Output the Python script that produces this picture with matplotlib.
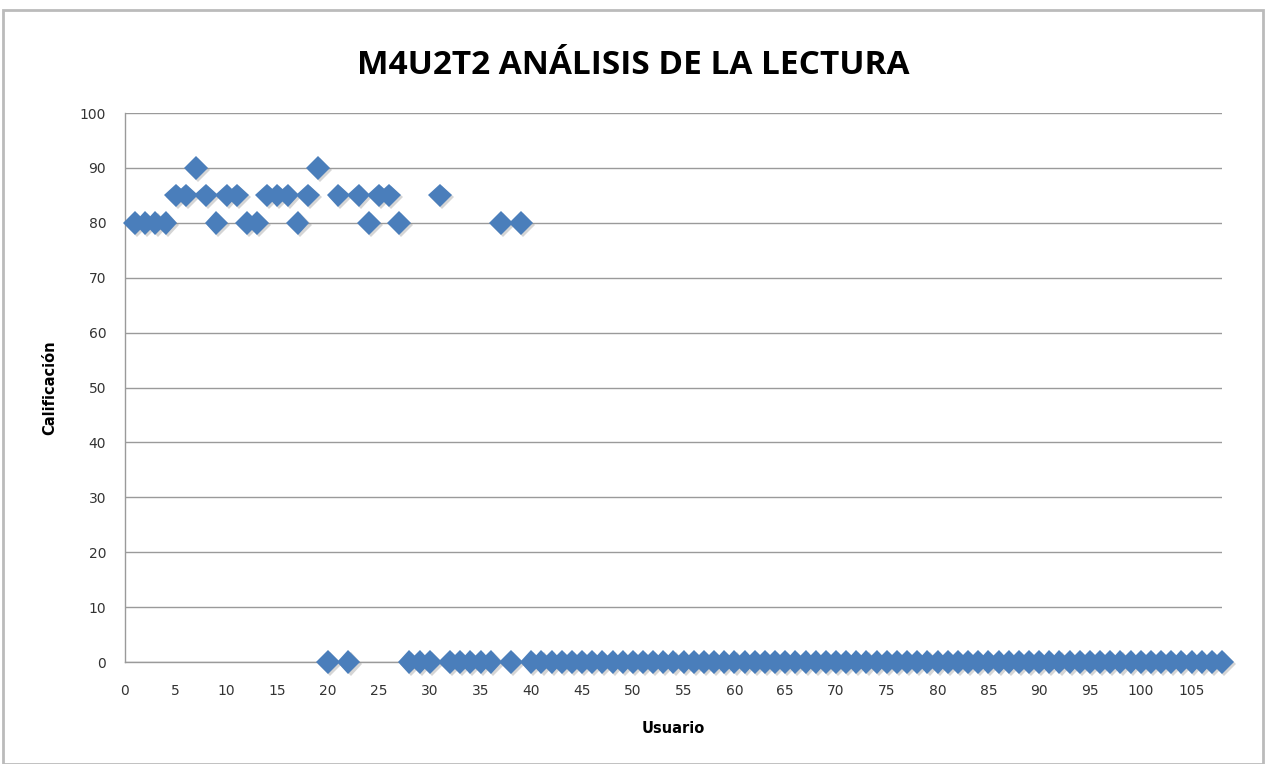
import matplotlib
matplotlib.use("Agg")
import matplotlib.pyplot as plt
import matplotlib.patheffects as pe
from matplotlib.patches import Rectangle

# Data
high_x = [1, 2, 3, 4, 5, 6, 7, 8, 9, 10, 11, 12, 13, 14, 15, 16, 17, 18, 19,
          21, 23, 24, 25, 26, 27, 31, 37, 39]
high_y = [80, 80, 80, 80, 85, 85, 90, 85, 80, 85, 85, 80, 80, 85, 85, 85, 80, 85, 90,
          85, 85, 80, 85, 85, 80, 85, 80, 80]
zero_x = [20, 22, 28, 29, 30, 32, 33, 34, 35, 36, 38] + list(range(40, 109))
zero_y = [0] * len(zero_x)

pts = sorted(zip(high_x + zero_x, high_y + zero_y))
usuario = [p[0] for p in pts]
calificacion = [p[1] for p in pts]

title = "M4U2T2 ANÁLISIS DE LA LECTURA"
xlabel = "Usuario"
ylabel = "Calificación"
xticks = list(range(0, 106, 5))
yticks = list(range(0, 101, 10))

fig = plt.figure(figsize=(12.67, 7.64), dpi=100)
ax = fig.add_axes([125/1267, 1-662/764, (1222-125)/1267, (662-113)/764])

ax.plot(usuario, calificacion, linestyle="none", marker="D", markersize=12,
        color="#4A7EBB", markeredgewidth=0,
        path_effects=[pe.SimplePatchShadow(offset=(1.5, -1.5), shadow_rgbFace="#888888", alpha=0.35),
                      pe.Normal()],
        zorder=3, clip_on=False)

ax.set_xlim(0, 108)
ax.set_ylim(0, 100)
ax.set_xticks(xticks)
ax.set_yticks(yticks)
ax.tick_params(axis="both", length=0, labelsize=10, colors="#333333")
ax.tick_params(axis="x", pad=15.5)
ax.tick_params(axis="y", pad=13.5)
ax.grid(axis="y", color="#9a9a9a", linewidth=1)
ax.set_axisbelow(True)
for s in ["top", "right"]:
    ax.spines[s].set_visible(False)
for s in ["left", "bottom"]:
    ax.spines[s].set_color("#9a9a9a")
    ax.spines[s].set_linewidth(1)

ax.set_xlabel(xlabel, fontsize=10.5, fontweight="bold", labelpad=17)
ax.set_ylabel(ylabel, fontsize=10.5, fontweight="bold", labelpad=16)
fig.text(0.5, 1-65/764, title, ha="center", va="center", fontsize=24,
         fontweight="bold", family="Open Sans")

fig.patches.append(Rectangle((3/1267, 0), 1260/1267, 1-10/764, transform=fig.transFigure,
                             fill=False, edgecolor="#bbbbbb", linewidth=2))

fig.savefig("out.png", dpi=100)
